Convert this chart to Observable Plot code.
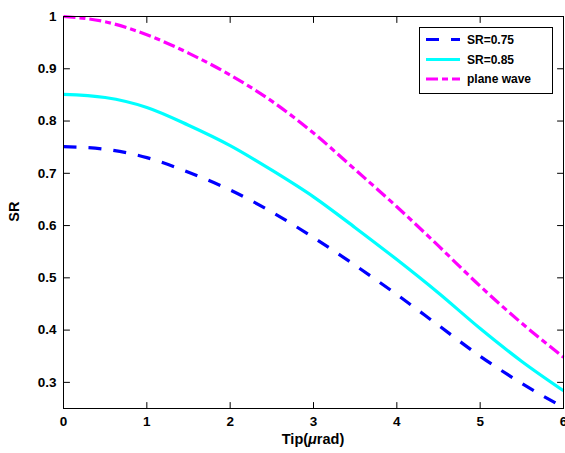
<!DOCTYPE html>
<html>
<head>
<meta charset="utf-8">
<script src="https://cdn.jsdelivr.net/npm/d3@7"></script>
<script src="https://cdn.jsdelivr.net/npm/@observablehq/plot@0.6"></script>
<style>
  html, body { margin: 0; padding: 0; background: white; }
  #chart { width: 565px; height: 453px; }
</style>
</head>
<body>
<div id="chart"></div>
<script>
// ---- data ----
const tip = [0, 0.5, 1, 1.5, 2, 2.5, 3, 3.5, 4, 4.5, 5, 5.5, 6];
const sr075 = [0.751, 0.746, 0.730, 0.702, 0.668, 0.626, 0.577, 0.524, 0.468, 0.409, 0.350, 0.298, 0.252];
const sr085 = [0.851, 0.845, 0.826, 0.792, 0.753, 0.706, 0.655, 0.596, 0.535, 0.471, 0.403, 0.340, 0.284];
const planeWave = [1.000, 0.990, 0.965, 0.930, 0.888, 0.838, 0.777, 0.707, 0.636, 0.561, 0.484, 0.413, 0.348];
const seriesNames = ["SR=0.75", "SR=0.85", "plane wave"];
const xTicks = [0, 1, 2, 3, 4, 5, 6];
const yTicks = [0.3, 0.4, 0.5, 0.6, 0.7, 0.8, 0.9, 1];
const xLabel = ["Tip(", "\u03bc", "rad)"];
const yLabel = "SR";

const colors = ["#0000ff", "#00ffff", "#ff00ff"];
const dashes = ["13,12", null, "12,4,6,4"];

const rows = (vals) => tip.map((t, i) => ({x: t, y: vals[i]}));
const series = [sr075, sr085, planeWave];

const fmtY = d => d === 1 ? "1" : d.toFixed(1);

const xDom = [0, 6], yDom = [0.25, 1];
const tick = 6;
const tickShape = {draw(context, l) { context.moveTo(0, 0); context.lineTo(0, -l); }};
const tickOpts = {length: tick, anchor: "start", stroke: "black", strokeWidth: 1, shape: tickShape};

const chart = Plot.plot({
  width: 565,
  height: 453,
  marginLeft: 63,
  marginRight: 2,
  marginTop: 16,
  marginBottom: 45,
  style: {fontFamily: "'Liberation Sans', Arial, sans-serif", fontSize: "13.5px", fontWeight: "bold", background: "white", color: "black"},
  x: {domain: xDom},
  y: {domain: yDom},
  marks: [
    ...series.map((s, i) => Plot.line(rows(s), {
      x: "x", y: "y", stroke: colors[i], strokeWidth: 3.2,
      strokeDasharray: dashes[i] || undefined, curve: "monotone-x", strokeLinecap: "butt"
    })),
    // inward tick marks on all four sides
    Plot.vector(xTicks, {x: d => d, y: yDom[0], rotate: 0, ...tickOpts}),
    Plot.vector(xTicks, {x: d => d, y: yDom[1], rotate: 180, ...tickOpts}),
    Plot.vector(yTicks, {x: xDom[0], y: d => d, rotate: 90, ...tickOpts}),
    Plot.vector(yTicks, {x: xDom[1], y: d => d, rotate: -90, ...tickOpts}),
    Plot.frame({stroke: "black", strokeWidth: 1}),
    Plot.axisX(xTicks, {anchor: "bottom", tickSize: 0, tickPadding: 8, label: null, tickFormat: d => String(d)}),
    Plot.axisY(yTicks, {anchor: "left", tickSize: 0, tickPadding: 7, label: null, tickFormat: fmtY})
  ]
});

document.getElementById("chart").appendChild(chart);

const svg = d3.select(chart);
const font = "'Liberation Sans', Arial, sans-serif";

// ---- axis labels ----
const xl = svg.append("text")
  .attr("x", 313).attr("y", 444)
  .attr("text-anchor", "middle")
  .style("font-family", font)
  .style("font-size", "14.5px").style("font-weight", "bold").attr("fill", "black");
xl.append("tspan").text(xLabel[0]);
xl.append("tspan").style("font-style", "italic").text(xLabel[1]);
xl.append("tspan").text(xLabel[2]);

svg.append("text")
  .attr("transform", "translate(18.5,211.7) rotate(-90)")
  .attr("text-anchor", "middle")
  .style("font-family", font)
  .style("font-size", "14.5px").style("font-weight", "bold").attr("fill", "black")
  .text(yLabel);

// ---- legend ----
const lg = svg.append("g");
lg.append("rect").attr("x", 419.5).attr("y", 27.5).attr("width", 133).attr("height", 66)
  .attr("fill", "white").attr("stroke", "black").attr("stroke-width", 1);
const rowY = [39.5, 59.5, 79];
seriesNames.forEach((name, i) => {
  lg.append("line").attr("x1", 426).attr("x2", 460).attr("y1", rowY[i]).attr("y2", rowY[i])
    .attr("stroke", colors[i]).attr("stroke-width", 3.2)
    .attr("stroke-dasharray", dashes[i] || null);
  lg.append("text").attr("x", 467).attr("y", rowY[i]).attr("dy", "0.36em")
    .attr("text-anchor", "start")
    .style("font-family", font)
    .style("font-size", "12px").style("font-weight", "bold").attr("fill", "black")
    .text(name);
});
</script>
</body>
</html>
